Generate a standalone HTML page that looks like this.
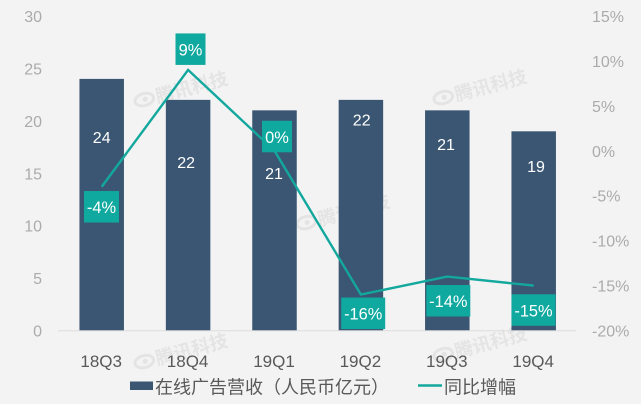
<!DOCTYPE html>
<html lang="zh">
<head>
<meta charset="utf-8">
<title>在线广告营收</title>
<style>
html,body{margin:0;padding:0;background:#f3f3f3;}
#wrap{position:relative;width:641px;height:404px;overflow:hidden;background:#f3f3f3;}
svg{position:absolute;left:0;top:0;display:block;}
text{font-family:"Liberation Sans","Noto Sans CJK SC",sans-serif;}
</style>
</head>
<body>
<div id="wrap">
<svg id="chart" width="641" height="404" viewBox="0 0 641 404" xmlns="http://www.w3.org/2000/svg"></svg>
</div>
<script>
const categories = ["18Q3","18Q4","19Q1","19Q2","19Q3","19Q4"];
const revenue = [24,22,21,22,21,19];
const growth = [-4,9,0,-16,-14,-15];
const revenueTicks = [0,5,10,15,20,25,30];
const growthTicks = [-20,-15,-10,-5,0,5,10,15];
const barSeriesName = "在线广告营收（人民币亿元）";
const lineSeriesName = "同比增幅";
const watermarkText = "腾讯科技";

const svg = document.getElementById('chart');
const NS = 'http://www.w3.org/2000/svg';
function make(tag, attrs, txt){
  const e = document.createElementNS(NS, tag);
  for (const k in attrs) e.setAttribute(k, attrs[k]);
  if (txt !== undefined) e.textContent = txt;
  svg.appendChild(e);
  return e;
}
const plotLeft = 58.5, bandW = 86.4, baseY = 330.5, topY = 16;
const yLeft = v => baseY - v * (baseY - topY) / 30;
const yRight = v => baseY - (v + 20) * (baseY - topY) / 35;
const xBand = i => plotLeft + bandW * i + bandW / 2;
const barW = 44.5;

// watermarks
function drawMark(cx, cy){
  const g = make('g', {transform:'rotate(-15 '+cx+' '+cy+')'});
  
  
  const el = document.createElementNS(NS,'ellipse');
  el.setAttribute('cx', cx-37); el.setAttribute('cy', cy);
  el.setAttribute('rx', 9.5); el.setAttribute('ry', 6);
  el.setAttribute('fill', 'none'); el.setAttribute('stroke', '#e4e4e4'); el.setAttribute('stroke-width', 3);
  g.appendChild(el);
  const dot = document.createElementNS(NS,'circle');
  dot.setAttribute('cx', cx-36); dot.setAttribute('cy', cy);
  dot.setAttribute('r', 2.6); dot.setAttribute('fill', '#e4e4e4');
  g.appendChild(dot);
  const t = document.createElementNS(NS,'text');
  t.setAttribute('x', cx-25); t.setAttribute('y', cy+7);
  t.setAttribute('font-size', 18.5); t.setAttribute('font-weight', 700); t.setAttribute('fill', '#e4e4e4');
  t.textContent = watermarkText;
  g.appendChild(t);
}
drawMark(180, 90);
drawMark(479, 88);
drawMark(342, 213);
drawMark(180, 352);
drawMark(479, 345);

// y tick labels
revenueTicks.forEach(v => {
  const t = make('text', {x:42, y:yLeft(v)+6, 'text-anchor':'end', 'font-size':16, fill:'#ababab'}, String(v));
  
  
});
growthTicks.forEach(v => {
  const t = make('text', {x:592, y:yRight(v)+6, 'font-size':16, fill:'#ababab'}, v + '%');
  
  
});

// bars
revenue.forEach((v,i) => {
  const r = make('rect', {x:xBand(i)-barW/2, y:yLeft(v), width:barW, height:baseY-yLeft(v), fill:'#3b5672'});
  
  
});

// axis
const axis = make('line', {x1:58, x2:576, y1:baseY+0.3, y2:baseY+0.3, stroke:'#dcdcdc', 'stroke-width':1});



// bar value labels, hand-placed below each bar top
const barLabelDx = [0,-2,-0.5,0.8,-1.3,2.3];
const barLabelDy = [64,68,68.6,25.8,39.4,40.5];
revenue.forEach((v,i) => {
  const t = make('text', {x:xBand(i)+barLabelDx[i], y:yLeft(v)+barLabelDy[i], 'text-anchor':'middle', 'font-size':16, fill:'#ffffff'}, String(v));
  
  
});

// line
const pts = growth.map((v,i) => xBand(i) + ',' + yRight(v)).join(' ');
const pl = make('polyline', {points:pts, fill:'none', stroke:'#13a89e', 'stroke-width':2.4, 'stroke-linejoin':'miter'});



// growth labels: box offset relative to point
const boxDx = [-0.2,2.4,2.5,2.3,1,-0.2];
const boxDy = [4.3,-36.5,-30,3,8.4,8.7];
growth.forEach((v,i) => {
  const s = v + '%';
  const w = s.length === 2 ? 30 : s.length === 3 ? 35 : 44;
  const h = 31.5;
  const cx = xBand(i) + boxDx[i];
  const by = yRight(v) + boxDy[i];
  const r = make('rect', {x:cx-w/2, y:by, width:w, height:h, fill:'#10a99f'});
  
  
  const t = make('text', {x:cx, y:by+22, 'text-anchor':'middle', 'font-size':16.4, fill:'#ffffff'}, s);
  
  
});

// category labels
categories.forEach((c,i) => {
  const t = make('text', {x:xBand(i)-0.5, y:367, 'text-anchor':'middle', 'font-size':17, fill:'#595959'}, c);
  
  
});

// legend
const lb = make('rect', {x:130, y:381.5, width:23, height:8.5, fill:'#3b5672'});


const lt = make('text', {x:155, y:393.5, 'font-size':18, fill:'#595959'}, barSeriesName);


const ll = make('line', {x1:418, x2:442, y1:385.5, y2:385.5, stroke:'#13a89e', 'stroke-width':2.4});


const lt2 = make('text', {x:444, y:393.5, 'font-size':18, fill:'#595959'}, lineSeriesName);


</script>
</body>
</html>
